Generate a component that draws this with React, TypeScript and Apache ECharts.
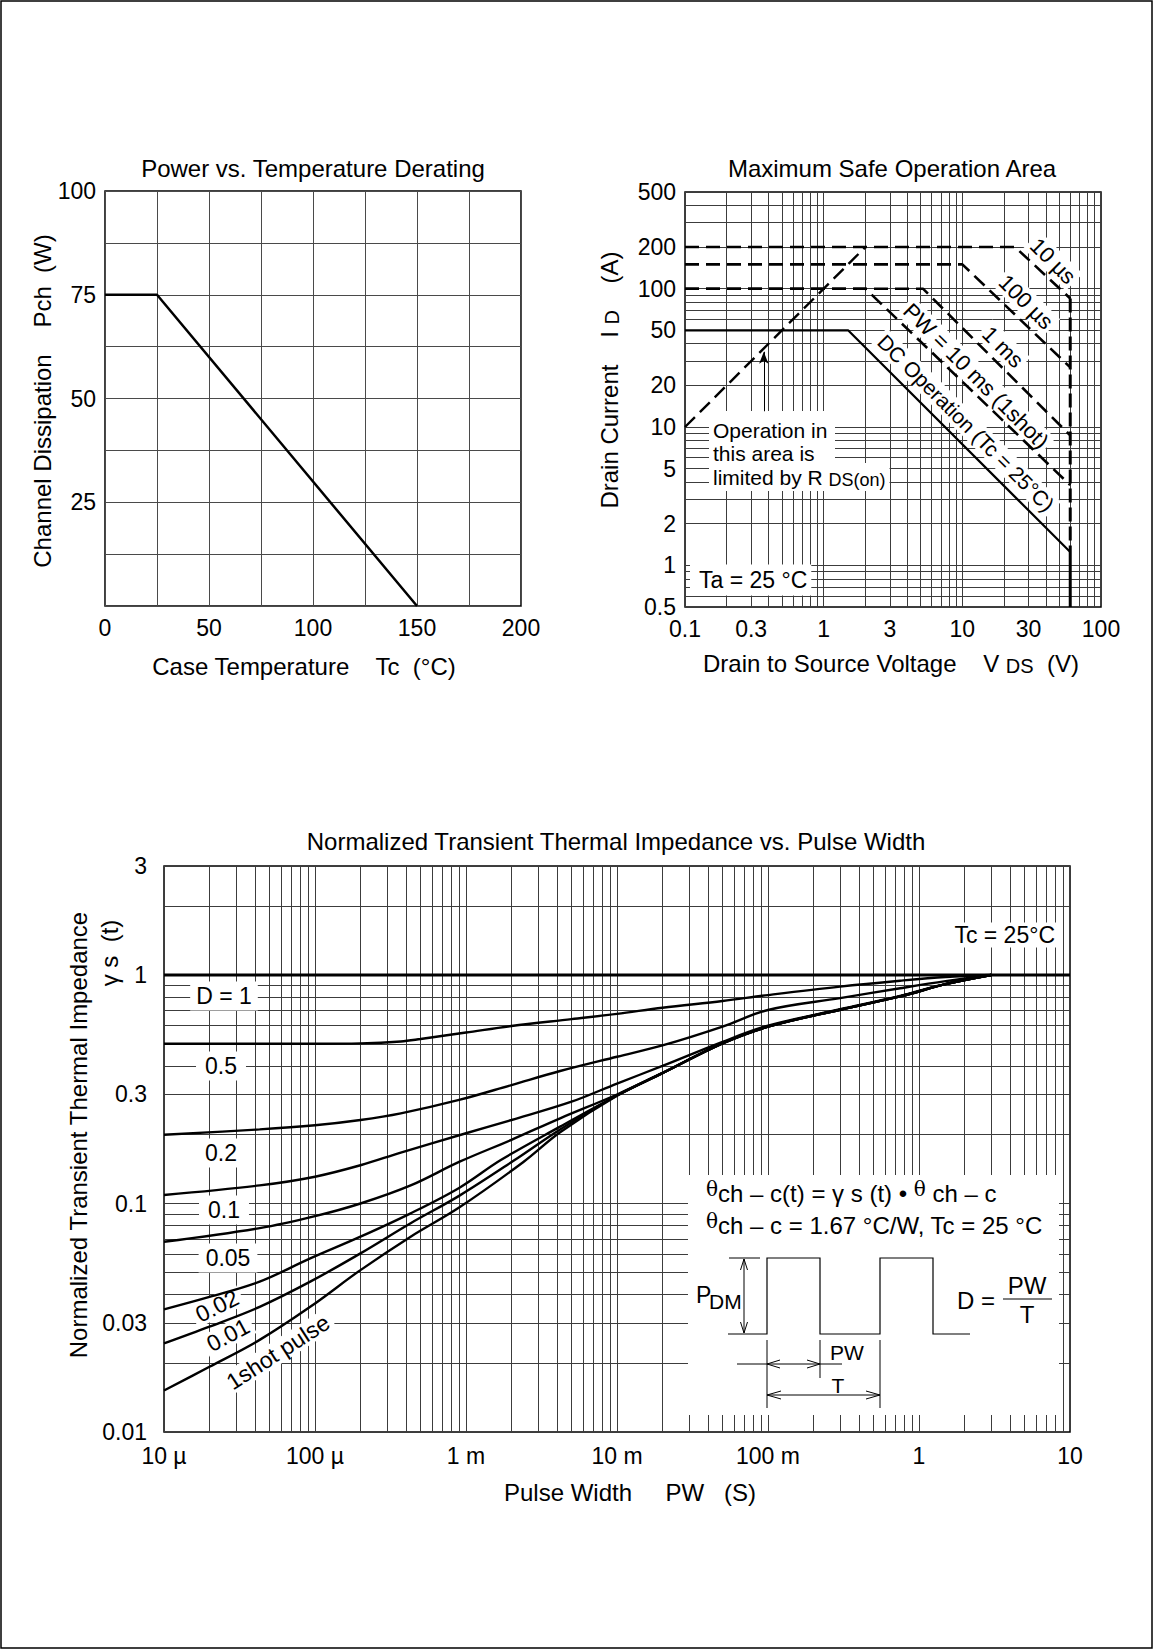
import React, { useEffect, useRef } from "react";
import * as echarts from "echarts";

const FONT = "'Liberation Sans', Arial, Helvetica, sans-serif";

// ===== Chart 1: Power vs. Temperature Derating =====
const caseTemperature = [0, 25, 150]; // Tc (°C)
const channelDissipation = [75, 75, 0]; // Pch (W)

// ===== Chart 2: Maximum Safe Operation Area  [VDS (V), ID (A)] =====
const soaDC = [[0.1, 50], [1.5, 50], [60, 1.25]];
const soaDCVertical = [[60, 1.25], [60, 0.5]];
const soa10ms = [[0.1, 100], [2, 100], [60, 3.8]];
const soa1ms = [[0.1, 100], [5.2, 100], [60, 8.7]];
const soa100us = [[0.1, 150], [10, 150], [60, 27]];
const soa10us = [[0.1, 200], [24, 200], [60, 85]];
const soaVdssLimit = [[60, 85], [60, 1.25]];
const soaRdsOnLimit = [[0.1, 10], [2, 200]];
const soaArrow = [[0.37, 13], [0.37, 35]];
const soaXTicks = [0.1, 0.3, 1, 3, 10, 30, 100];
const soaXLabels = ["0.1", "0.3", "1", "3", "10", "30", "100"];
const soaYTicks = [0.5, 1, 2, 5, 10, 20, 50, 100, 200, 500];
const soaYLabels = ["0.5", "1", "2", "5", "10", "20", "50", "100", "200", "500"];

// ===== Chart 3: Normalized Transient Thermal Impedance  [PW (s), γs(t)] =====
const pwXTicks = [1e-5, 1e-4, 1e-3, 1e-2, 1e-1, 1, 10];
const pwXLabels = ["10 µ", "100 µ", "1 m", "10 m", "100 m", "1", "10"];
const gammaYTicks = [0.01, 0.03, 0.1, 0.3, 1, 3];
const gammaYLabels = ["0.01", "0.03", "0.1", "0.3", "1", "3"];

const zthD1 = [[1e-5, 1], [10, 1]];
const zthD05 = [[1e-5, 0.5], [1e-4, 0.5], [2e-4, 0.502], [3.7e-4, 0.512], [5e-4, 0.525], [1e-3, 0.56], [2e-3, 0.598], [5e-3, 0.641], [1e-2, 0.676], [2e-2, 0.719], [5e-2, 0.77], [0.1, 0.817], [0.3, 0.89], [0.75, 0.944], [1.5, 0.98], [3, 1]];
const zthD02 = [[1e-5, 0.2], [4.3e-5, 0.211], [1e-4, 0.22], [2e-4, 0.232], [3.7e-4, 0.248], [9e-4, 0.284], [2e-3, 0.33], [4.2e-3, 0.38], [1e-2, 0.439], [2e-2, 0.492], [5e-2, 0.595], [0.1, 0.703], [0.3, 0.792], [0.75, 0.875], [1.5, 0.94], [3, 1]];
const zthD01 = [[1e-5, 0.109], [4.3e-5, 0.12], [1e-4, 0.131], [2e-4, 0.147], [3.7e-4, 0.167], [1e-3, 0.203], [2e-3, 0.232], [5e-3, 0.279], [1e-2, 0.335], [2e-2, 0.4], [5e-2, 0.51], [0.1, 0.6], [0.3, 0.708], [0.75, 0.81], [1.5, 0.915], [3, 1]];
const zthD005 = [[1e-5, 0.068], [4.3e-5, 0.078], [1e-4, 0.088], [2e-4, 0.1], [4.3e-4, 0.12], [9e-4, 0.152], [2e-3, 0.19], [4.2e-3, 0.236], [1e-2, 0.3], [2e-2, 0.373], [5e-2, 0.503], [0.1, 0.595], [0.3, 0.705], [0.75, 0.806], [1.5, 0.912], [3, 1]];
const zthD002 = [[1e-5, 0.0344], [2e-5, 0.039], [4.3e-5, 0.0455], [9.3e-5, 0.0575], [2e-4, 0.0716], [4.3e-4, 0.0906], [9e-4, 0.117], [1.7e-3, 0.155], [4.2e-3, 0.217], [1e-2, 0.297], [2e-2, 0.372], [5e-2, 0.502], [0.1, 0.594], [0.3, 0.705], [0.75, 0.806], [1.5, 0.912], [3, 1]];
const zthD001 = [[1e-5, 0.0244], [2e-5, 0.0289], [4.3e-5, 0.0353], [9.3e-5, 0.0455], [2e-4, 0.0605], [4.3e-4, 0.082], [9e-4, 0.108], [2.1e-3, 0.155], [4.2e-3, 0.211], [1e-2, 0.297], [2e-2, 0.372], [5e-2, 0.502], [0.1, 0.594], [0.3, 0.705], [0.75, 0.806], [1.5, 0.912], [3, 1]];
const zthSingle = [[1e-5, 0.0152], [2e-5, 0.0193], [4.3e-5, 0.0253], [9.3e-5, 0.0353], [2e-4, 0.0511], [4.3e-4, 0.0716], [9e-4, 0.096], [2.4e-3, 0.152], [4.2e-3, 0.205], [1e-2, 0.296], [2e-2, 0.372], [5e-2, 0.502], [0.1, 0.594], [0.3, 0.705], [0.75, 0.806], [1.5, 0.912], [3, 1]];

// log-paper grid values (1..9 per decade)
function logGrid(min: number, max: number): number[] {
  const out: number[] = [];
  for (let e = Math.floor(Math.log10(min)) - 1; e <= Math.ceil(Math.log10(max)); e++) {
    for (let m = 1; m <= 9; m++) {
      const v = parseFloat((m * Math.pow(10, e)).toPrecision(6));
      if (v >= min * 0.9999 && v <= max * 1.0001) out.push(v);
    }
  }
  return out;
}

function gridSeries(idx: number, xs: number[], ys: number[], anchor: number[]) {
  return {
    type: "line",
    xAxisIndex: idx,
    yAxisIndex: idx,
    data: [anchor],
    symbol: "none",
    lineStyle: { opacity: 0 },
    silent: true,
    z: 1,
    markLine: {
      silent: true,
      z: 1,
      precision: 20,
      symbol: ["none", "none"],
      label: { show: false },
      emphasis: { disabled: true },
      animation: false,
      lineStyle: { color: "#3c3c3c", width: 1, type: "solid" },
      data: [...xs.map((v) => ({ xAxis: v })), ...ys.map((v) => ({ yAxis: v }))],
    },
  };
}

function curve(data: number[][], idx: number, width = 2.2, dash: any = "solid", smooth = false) {
  return {
    type: "line",
    xAxisIndex: idx,
    yAxisIndex: idx,
    data,
    symbol: "none",
    showSymbol: false,
    silent: true,
    z: 5,
    lineStyle: { color: "#000", width, type: dash, cap: "butt" },
    smooth: smooth ? 0.35 : false,
  };
}

type TO = { size?: number; align?: string; va?: string; rot?: number; bg?: string; pad?: any; rich?: any; z?: number; width?: number; lh?: number; family?: string };
function T(text: string, x: number, y: number, o: TO = {}) {
  const style: any = {
    text,
    fill: "#000",
    fontSize: o.size ?? 24,
    fontFamily: o.family ?? FONT,
    align: o.align ?? "center",
    verticalAlign: o.va ?? "middle",
  };
  if (o.bg) style.backgroundColor = o.bg;
  if (o.pad !== undefined) style.padding = o.pad;
  if (o.rich) style.rich = o.rich;
  if (o.width) style.width = o.width;
  if (o.lh) style.lineHeight = o.lh;
  return { type: "text", x, y, rotation: o.rot ?? 0, z: o.z ?? 10, silent: true, style };
}
function L(x1: number, y1: number, x2: number, y2: number, w = 1.2, z = 4) {
  return { type: "line", shape: { x1, y1, x2, y2 }, style: { stroke: "#000", lineWidth: w }, z, silent: true };
}
function P(points: number[][], w = 1.2, z = 4) {
  return { type: "polyline", shape: { points }, style: { stroke: "#000", lineWidth: w, fill: "none" }, z, silent: true };
}

const hiddenLogAxis = (gridIndex: number, min: number, max: number) => ({
  type: "log",
  logBase: 10,
  gridIndex,
  min,
  max,
  axisLine: { show: false },
  axisTick: { show: false },
  splitLine: { show: false },
  axisLabel: { show: false },
});

const gridBox = (left: number, top: number, width: number, height: number) => ({
  left,
  top,
  width,
  height,
  show: true,
  borderColor: "#000",
  borderWidth: 1.5,
  backgroundColor: "transparent",
  containLabel: false,
  outerBoundsMode: "none",
});

const labelFont = { fontSize: 23, color: "#000", fontFamily: FONT };

function buildOption() {
  return {
    animation: false,
    backgroundColor: "#fff",
    grid: [gridBox(105, 191, 416, 415), gridBox(685, 192, 416, 415), gridBox(164, 866, 906, 566)],
    xAxis: [
      {
        type: "value",
        gridIndex: 0,
        min: 0,
        max: 200,
        interval: 25,
        axisLine: { show: false },
        axisTick: { show: false },
        splitLine: { show: true, lineStyle: { color: "#4a4a4a", width: 1 } },
        axisLabel: { ...labelFont, margin: 10, formatter: (v: number) => (v % 50 === 0 ? String(v) : "") },
      },
      hiddenLogAxis(1, 0.1, 100),
      hiddenLogAxis(2, 1e-5, 10),
    ],
    yAxis: [
      {
        type: "value",
        gridIndex: 0,
        min: 0,
        max: 100,
        interval: 12.5,
        axisLine: { show: false },
        axisTick: { show: false },
        splitLine: { show: true, lineStyle: { color: "#4a4a4a", width: 1 } },
        axisLabel: { ...labelFont, margin: 9, formatter: (v: number) => (v % 25 === 0 && v !== 0 ? String(v) : "") },
      },
      hiddenLogAxis(1, 0.5, 500),
      hiddenLogAxis(2, 0.01, 3),
    ],
    series: [
      // chart 1
      curve(caseTemperature.map((t, i) => [t, channelDissipation[i]]), 0, 2.5),
      // chart 2
      gridSeries(1, logGrid(0.1, 100), logGrid(0.5, 500), [0.1, 0.5]),
      curve(soaDC, 1, 2.2),
      curve(soaDCVertical, 1, 3),
      curve(soa10ms, 1, 2.6, [14, 7]),
      curve(soa1ms, 1, 2.6, [14, 7]),
      curve(soa100us, 1, 2.6, [14, 7]),
      curve(soa10us, 1, 2.6, [14, 7]),
      curve(soaVdssLimit, 1, 3, [14, 5]),
      curve(soaRdsOnLimit, 1, 2.4, [14, 7]),
      {
        type: "line",
        xAxisIndex: 1,
        yAxisIndex: 1,
        data: [soaArrow[0]],
        symbol: "none",
        lineStyle: { opacity: 0 },
        silent: true,
        z: 5,
        markLine: {
          silent: true,
          z: 6,
          precision: 20,
          symbol: ["none", "arrow"],
          symbolSize: [7, 12],
          label: { show: false },
          emphasis: { disabled: true },
          lineStyle: { color: "#000", width: 1, type: "solid" },
          itemStyle: { color: "#000" },
          data: [[{ coord: soaArrow[0] }, { coord: soaArrow[1] }]],
        },
      },
      // chart 3
      gridSeries(2, logGrid(1e-5, 10), logGrid(0.01, 3), [1e-5, 0.01]),
      curve(zthD1, 2, 3),
      curve(zthD05, 2, 2.4, "solid", true),
      curve(zthD02, 2, 2.4, "solid", true),
      curve(zthD01, 2, 2.4, "solid", true),
      curve(zthD005, 2, 2.4, "solid", true),
      curve(zthD002, 2, 2.4, "solid", true),
      curve(zthD001, 2, 2.4, "solid", true),
      curve(zthSingle, 2, 2.4, "solid", true),
    ],
  };
}

function buildGraphics(chart: any) {
  const px = (g: number, x: number, y: number) => chart.convertToPixel({ gridIndex: g }, [x, y]) as number[];
  const els: any[] = [];
  const R90 = Math.PI / 2;
  const subRich = (size: number) => ({ s: { fontSize: size, fontFamily: FONT, fill: "#000", lineHeight: 14, verticalAlign: "bottom" } });

  // page frame
  els.push({ type: "rect", shape: { x: 1, y: 1, width: 1151, height: 1647 }, style: { fill: "none", stroke: "#000", lineWidth: 1.5 }, z: 0, silent: true });

  // ---- chart 1 texts
  els.push(T("Power vs. Temperature Derating", 313, 168));
  els.push(T("Channel Dissipation    Pch  (W)", 42, 401, { rot: R90 }));
  els.push(T("Case Temperature    Tc  (°C)", 304, 666));

  // ---- chart 2 texts
  els.push(T("Maximum Safe Operation Area", 892, 168));
  els.push(T("Drain Current    I {s|D}    (A)", 609, 380, { rot: R90, lh: 26, rich: subRich(20) }));
  els.push(T("Drain to Source Voltage    V {s|DS}  (V)", 891, 663, { lh: 26, rich: subRich(20) }));
  soaXTicks.forEach((v, i) => {
    const p = px(1, v, 0.5);
    els.push(T(soaXLabels[i], p[0], p[1] + 10, { size: 23, va: "top" }));
  });
  soaYTicks.forEach((v, i) => {
    const p = px(1, 0.1, v);
    els.push(T(soaYLabels[i], p[0] - 9, p[1], { size: 23, align: "right" }));
  });
  els.push(T("Operation in\nthis area is", 709, 411, { size: 21, align: "left", va: "top", lh: 23, bg: "#fff", pad: [8, 4, 2, 4], width: 118, z: 3 }));
  els.push(T("limited by R {s|DS(on)}", 709, 477, { size: 21, align: "left", lh: 24, bg: "#fff", pad: [2, 4, 2, 4], rich: subRich(18), z: 3 }));
  els.push(T("Ta = 25 °C", 690, 580, { size: 23, align: "left", bg: "#fff", pad: [4, 4, 4, 9], z: 3 }));
  const r45 = -Math.PI / 4;
  els.push(T("10 µs", 1053, 261, { size: 22, rot: r45, bg: "#fff", pad: [1, 3], z: 3 }));
  els.push(T("100 µs", 1026, 302, { size: 22, rot: r45, bg: "#fff", pad: [1, 3], z: 3 }));
  els.push(T("1 ms", 1003, 347, { size: 22, rot: r45, bg: "#fff", pad: [1, 3], z: 3 }));
  els.push(T("PW = 10 ms (1shot)", 976, 376, { size: 22, rot: r45, bg: "#fff", pad: [1, 3], z: 3 }));
  els.push(T("DC Operation (Tc = 25°C)", 966, 423, { size: 21, rot: r45, bg: "#fff", pad: [1, 3], z: 3 }));

  // ---- chart 3 texts
  els.push(T("Normalized Transient Thermal Impedance vs. Pulse Width", 616, 841));
  els.push(T("Normalized Transient Thermal Impedance", 78, 1135, { rot: R90 }));
  els.push(T("γ s  (t)", 109, 953, { rot: R90 }));
  els.push(T("Pulse Width     PW   (S)", 630, 1492));
  pwXTicks.forEach((v, i) => {
    const p = px(2, v, 0.01);
    els.push(T(pwXLabels[i], p[0], p[1] + 12, { size: 23, va: "top" }));
  });
  gammaYTicks.forEach((v, i) => {
    const p = px(2, 1e-5, v);
    els.push(T(gammaYLabels[i], p[0] - 17, p[1], { size: 23, align: "right" }));
  });
  els.push(T("Tc = 25°C", 1058, 935, { size: 23, align: "right", bg: "#fff", pad: [1, 3], z: 3 }));
  els.push(T("D = 1", 224, 996, { size: 23, bg: "#fff", pad: [3, 6], z: 3 }));
  els.push(T("0.5", 221, 1066, { size: 23, bg: "#fff", pad: [3, 9], z: 3 }));
  els.push(T("0.2", 221, 1153, { size: 23, bg: "#fff", pad: [3, 9], z: 3 }));
  els.push(T("0.1", 224, 1210, { size: 23, bg: "#fff", pad: [3, 9], z: 3 }));
  els.push(T("0.05", 228, 1258, { size: 23, bg: "#fff", pad: [3, 7], z: 3 }));
  els.push(T("0.02", 217, 1306, { size: 23, rot: 0.46, bg: "#fff", pad: [0, 4], z: 3 }));
  els.push(T("0.01", 228, 1335, { size: 23, rot: 0.49, bg: "#fff", pad: [0, 4], z: 3 }));
  els.push(T("1shot pulse", 278, 1352, { size: 23, rot: 0.575, bg: "#fff", pad: [0, 4], z: 3 }));

  // inset with formula and pulse diagram
  els.push({ type: "rect", shape: { x: 688, y: 1175, width: 371, height: 240 }, style: { fill: "#fff" }, z: 3, silent: true });
  const thRich = { t: { fontSize: 20, fontFamily: "'DejaVu Serif', serif", fill: "#000", lineHeight: 20, verticalAlign: "top" } };
  els.push(T("{t|θ}ch – c(t) = γ s (t) • {t|θ} ch – c", 706, 1193, { align: "left", lh: 28, rich: thRich, z: 4 }));
  els.push(T("{t|θ}ch – c = 1.67 °C/W, Tc = 25 °C", 706, 1225, { align: "left", lh: 28, rich: thRich, z: 4 }));
  els.push(P([[728, 1334], [767, 1334], [767, 1258], [820, 1258], [820, 1334], [880, 1334], [880, 1258], [933, 1258], [933, 1334], [970, 1334]]));
  els.push(L(729, 1258, 760, 1258, 1));
  els.push(L(744, 1259, 744, 1333, 1));
  els.push(P([[740.5, 1270], [744, 1259], [747.5, 1270]], 1));
  els.push(P([[740.5, 1322], [744, 1333], [747.5, 1322]], 1));
  els.push(T("P", 696, 1295, { size: 23, align: "left", z: 4 }));
  els.push(T("DM", 709, 1301, { size: 21, align: "left", z: 4 }));
  els.push(L(767, 1340, 767, 1408, 1));
  els.push(L(820, 1340, 820, 1378, 1));
  els.push(L(880, 1340, 880, 1408, 1));
  els.push(L(737, 1364, 842, 1364, 1));
  els.push(P([[780, 1360], [767, 1364], [780, 1368]], 1));
  els.push(P([[807, 1360], [820, 1364], [807, 1368]], 1));
  els.push(T("PW", 830, 1352, { size: 21, align: "left", z: 4 }));
  els.push(L(767, 1395, 880, 1395, 1));
  els.push(P([[781, 1391], [767, 1395], [781, 1399]], 1));
  els.push(P([[866, 1391], [880, 1395], [866, 1399]], 1));
  els.push(T("T", 838, 1385, { size: 21, z: 4 }));
  els.push(T("D =", 957, 1300, { align: "left", z: 4 }));
  els.push(L(1003, 1299, 1052, 1299, 1.2));
  els.push(T("PW", 1027, 1285, { z: 4 }));
  els.push(T("T", 1027, 1314, { z: 4 }));

  return els;
}

export default function App() {
  const ref = useRef<HTMLDivElement>(null);
  useEffect(() => {
    document.body.style.margin = "0";
    const chart = echarts.init(ref.current as HTMLDivElement, undefined, { renderer: "svg" });
    chart.setOption(buildOption() as any);
    chart.setOption({ graphic: buildGraphics(chart) } as any);
    return () => chart.dispose();
  }, []);
  return <div ref={ref} style={{ width: 1154, height: 1650, background: "#fff" }} />;
}
